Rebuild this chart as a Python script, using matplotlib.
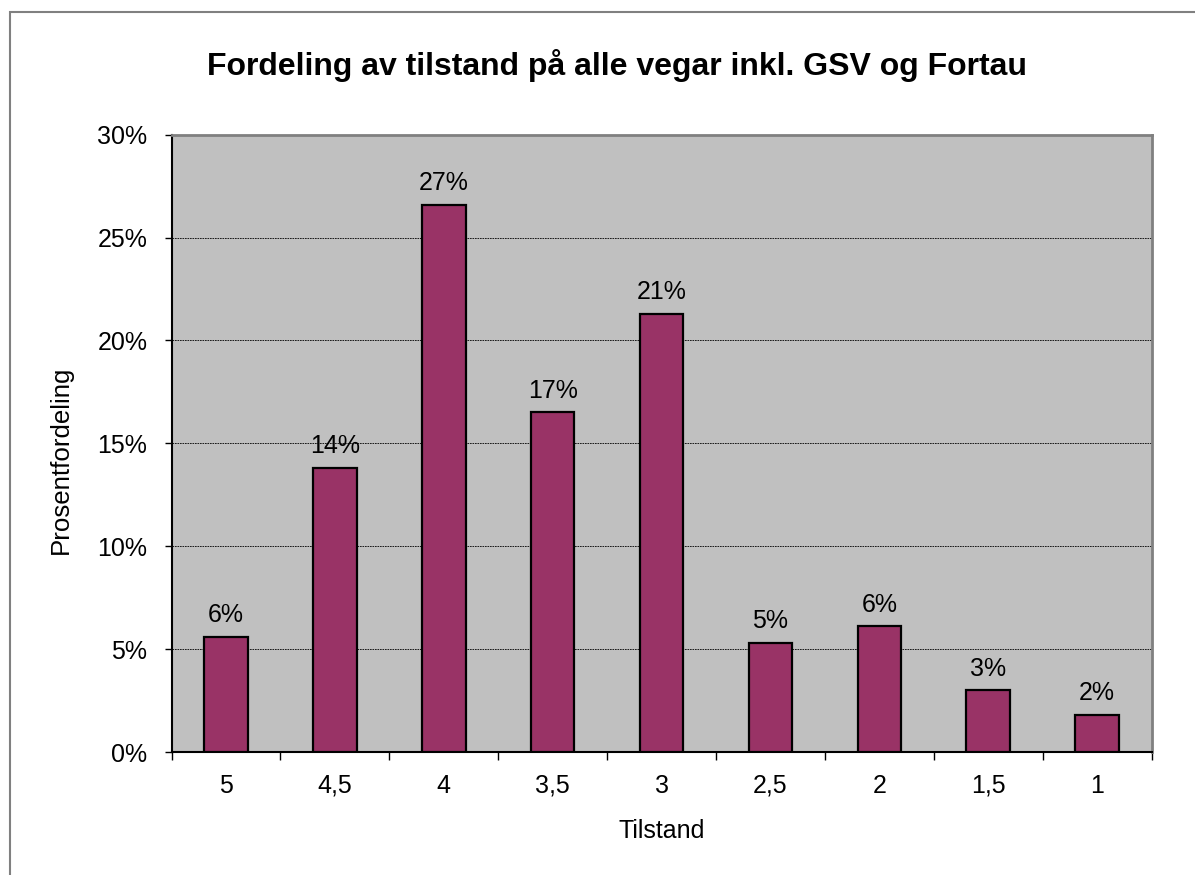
import matplotlib
matplotlib.use("Agg")
import matplotlib.pyplot as plt
from matplotlib.ticker import FixedLocator, PercentFormatter
from matplotlib.patches import Rectangle

categories = ["5", "4,5", "4", "3,5", "3", "2,5", "2", "1,5", "1"]
values = [5.6, 13.8, 26.6, 16.5, 21.3, 5.3, 6.1, 3.0, 1.8]
labels = ["6%", "14%", "27%", "17%", "21%", "5%", "6%", "3%", "2%"]
yticks = [0, 5, 10, 15, 20, 25, 30]

plt.rcParams['font.family'] = ['Liberation Sans', 'DejaVu Sans']

W, H = 1195, 875
fig = plt.figure(figsize=(W / 100, H / 100), dpi=100)
fig.patch.set_facecolor('white')

# outer chart border (only left/top visible)
fig.add_artist(Rectangle((10 / W, -0.1), 1.2, (H - 12) / H + 0.1, transform=fig.transFigure,
                         fill=False, edgecolor='#808080', linewidth=1.5))

l, r, t, b = 171.5, 1151.5, 134.7, 752
ax = fig.add_axes([l / W, (H - b) / H, (r - l) / W, (b - t) / H])
ax.set_facecolor('#C0C0C0')

x = list(range(len(categories)))
ax.bar(x, values, width=0.40, color='#993366', edgecolor='black', linewidth=1.6, zorder=3)

FS = 18
for xi, v, lab in zip(x, values, labels):
    ax.annotate(lab, (xi, v), xytext=(0, 7), textcoords='offset points',
                ha='center', va='bottom', fontsize=FS)

ax.set_xlim(-0.5, len(categories) - 0.5)
ax.set_ylim(0, 30)
ax.yaxis.set_major_locator(FixedLocator(yticks))
ax.yaxis.set_major_formatter(PercentFormatter(decimals=0))
ax.grid(axis='y', color='black', linestyle=(0, (2, 1)), linewidth=0.6, zorder=1)
ax.set_axisbelow(True)

ax.set_xticks(x)
ax.set_xticklabels(categories)
ax.set_xticks([i - 0.5 for i in range(len(categories) + 1)], minor=True)
ax.tick_params(axis='x', which='major', length=0, pad=15.5, labelsize=FS)
ax.tick_params(axis='x', which='minor', length=5.8, width=1, direction='out')
ax.tick_params(axis='y', which='major', length=5.4, width=1, direction='out', pad=12, labelsize=FS)

for s in ['left', 'bottom']:
    ax.spines[s].set_color('black')
    ax.spines[s].set_linewidth(1.5)
for s in ['top', 'right']:
    ax.spines[s].set_color('#808080')
    ax.spines[s].set_linewidth(2.0)

ax.set_xlabel('Tilstand', fontsize=FS, labelpad=15.5)
ax.set_ylabel('Prosentfordeling', fontsize=18.6)
ax.yaxis.set_label_coords(-0.1005, 0.473)

fig.text(617 / W, 1 - 65 / H, 'Fordeling av tilstand på alle vegar inkl. GSV og Fortau',
         ha='center', va='center', fontsize=23, fontweight='bold')

fig.savefig('out.png', dpi=100, facecolor='white')
